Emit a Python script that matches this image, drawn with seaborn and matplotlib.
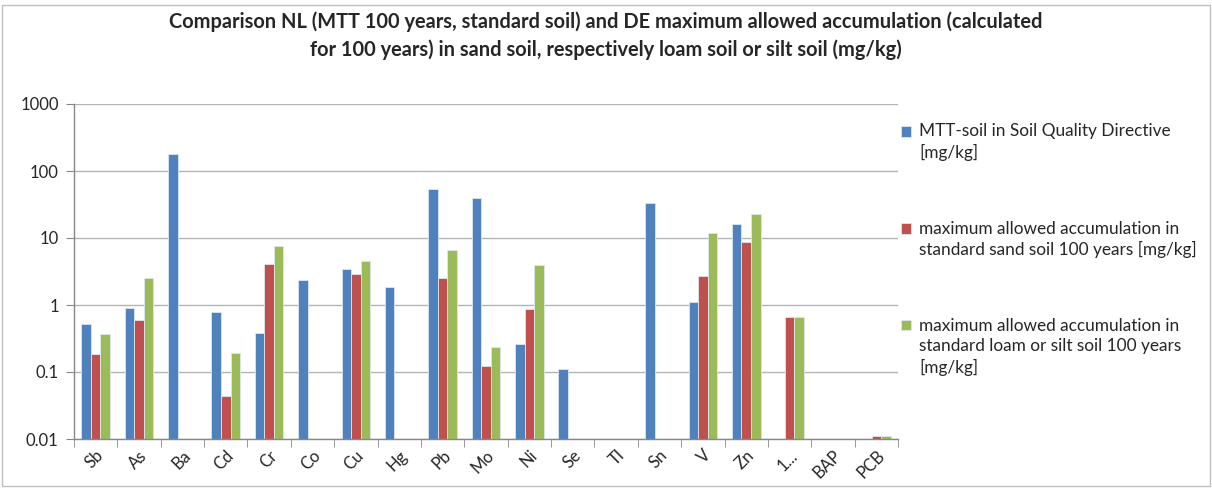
import numpy as np
import pandas as pd
import seaborn as sns
import matplotlib.pyplot as plt
from matplotlib.ticker import FixedLocator, FuncFormatter
from matplotlib.patches import Rectangle

# elementen / stoffen
stoffen = ["Sb", "As", "Ba", "Cd", "Cr", "Co", "Cu", "Hg", "Pb", "Mo",
           "Ni", "Se", "Tl", "Sn", "V", "Zn", "1...", "BAP", "PCB"]

# waarden (mg/kg), nan = geen balk
mtt = [0.525, 0.90, 181, 0.78, 0.376, 2.39, 3.41, 1.88, 54.8, 39.3,
       0.258, 0.109, np.nan, 33.8, 1.09, 16.0, np.nan, np.nan, np.nan]
zand = [0.187, 0.596, np.nan, 0.0445, 4.09, np.nan, 2.87, np.nan, 2.5, 0.124,
        0.869, np.nan, np.nan, np.nan, 2.74, 8.73, 0.668, np.nan, 0.0111]
leem = [0.367, 2.56, np.nan, 0.195, 7.6, np.nan, 4.59, np.nan, 6.71, 0.235,
        4.0, np.nan, np.nan, np.nan, 12.0, 22.6, 0.668, np.nan, 0.0111]

reeksen = ["MTT-soil in Soil Quality Directive\n[mg/kg]",
           "maximum allowed accumulation in\nstandard sand soil 100 years [mg/kg]",
           "maximum allowed accumulation in\nstandard loam or silt soil 100 years\n[mg/kg]"]
kleuren = ["#4F81BD", "#C0504D", "#9BBB59"]

titel = ("Comparison NL (MTT 100 years, standard soil) and DE maximum allowed accumulation (calculated\n"
         "for 100 years) in sand soil, respectively loam soil or silt soil (mg/kg)")

# lange tabel voor seaborn
rijen = []
for reeks, waarden in zip(reeksen, [mtt, zand, leem]):
    for stof, w in zip(stoffen, waarden):
        rijen.append({"Stof": stof, "Reeks": reeks, "Waarde": w})
df = pd.DataFrame(rijen)

sns.set_style("white")
plt.rcParams['font.family'] = ['Lato', 'DejaVu Sans']

fig = plt.figure(figsize=(12.12, 4.88), dpi=100)
ax = fig.add_axes([74 / 1212, 1 - 439 / 488, (898 - 74) / 1212, (439 - 104) / 488])

ax.set_yscale("log")
sns.barplot(data=df, x="Stof", y="Waarde", hue="Reeks", order=stoffen,
            hue_order=reeksen, palette=kleuren, width=0.66, errorbar=None,
            saturation=1, linewidth=0.6, edgecolor="#dde6f0", ax=ax)

ax.set_ylim(0.01, 1000)
ax.set_xlim(-0.5, len(stoffen) - 0.5)
ax.yaxis.set_major_locator(FixedLocator([0.01, 0.1, 1, 10, 100, 1000]))
ax.yaxis.set_major_formatter(FuncFormatter(lambda v, p: f"{v:g}"))
ax.yaxis.set_minor_locator(FixedLocator([]))
ax.grid(axis="y", color="#b3b3b3", linewidth=1)
ax.set_axisbelow(True)

for kant in ["top", "right"]:
    ax.spines[kant].set_visible(False)
for kant in ["left", "bottom"]:
    ax.spines[kant].set_color("#888888")
    ax.spines[kant].set_linewidth(1)

ax.tick_params(axis="y", which="major", length=6, color="#888888", labelsize=12, pad=5, left=True)
ax.set_xticks(np.arange(-0.5, len(stoffen)), minor=True)
ax.tick_params(axis="x", which="minor", length=6, color="#888888", bottom=True)
ax.tick_params(axis="x", which="major", length=0, labelsize=12, pad=6)
plt.setp(ax.get_xticklabels(), rotation=45, ha="right", rotation_mode="anchor")

ax.set_xlabel("")
ax.set_ylabel("")

fig.suptitle(titel, fontsize=14.4, fontweight="bold", y=0.977, x=0.5, linespacing=1.45)

fs = 12.4
leg = ax.legend(loc="upper left", bbox_to_anchor=(1.004, 0.942), frameon=False,
                fontsize=fs, labelspacing=3.5, handlelength=0.58, handleheight=0.58,
                handletextpad=0.45, borderaxespad=0, borderpad=0)
# handvat uitlijnen met de eerste regel van elk label
for tekst, handvat in zip(leg.get_texts(), leg.legend_handles):
    tekst.set_linespacing(1.3)
    n = tekst.get_text().count("\n")
    handvat.set_y(handvat.get_y() + n * 0.5 * 1.3 * fs)

# rand om de hele grafiek
fig.patches.append(Rectangle((2 / 1212, 2 / 488), 1 - 4 / 1212, 1 - 7 / 488,
                             transform=fig.transFigure, fill=False,
                             edgecolor="#bfbfbf", linewidth=1))

plt.savefig("out.png", dpi=100)
